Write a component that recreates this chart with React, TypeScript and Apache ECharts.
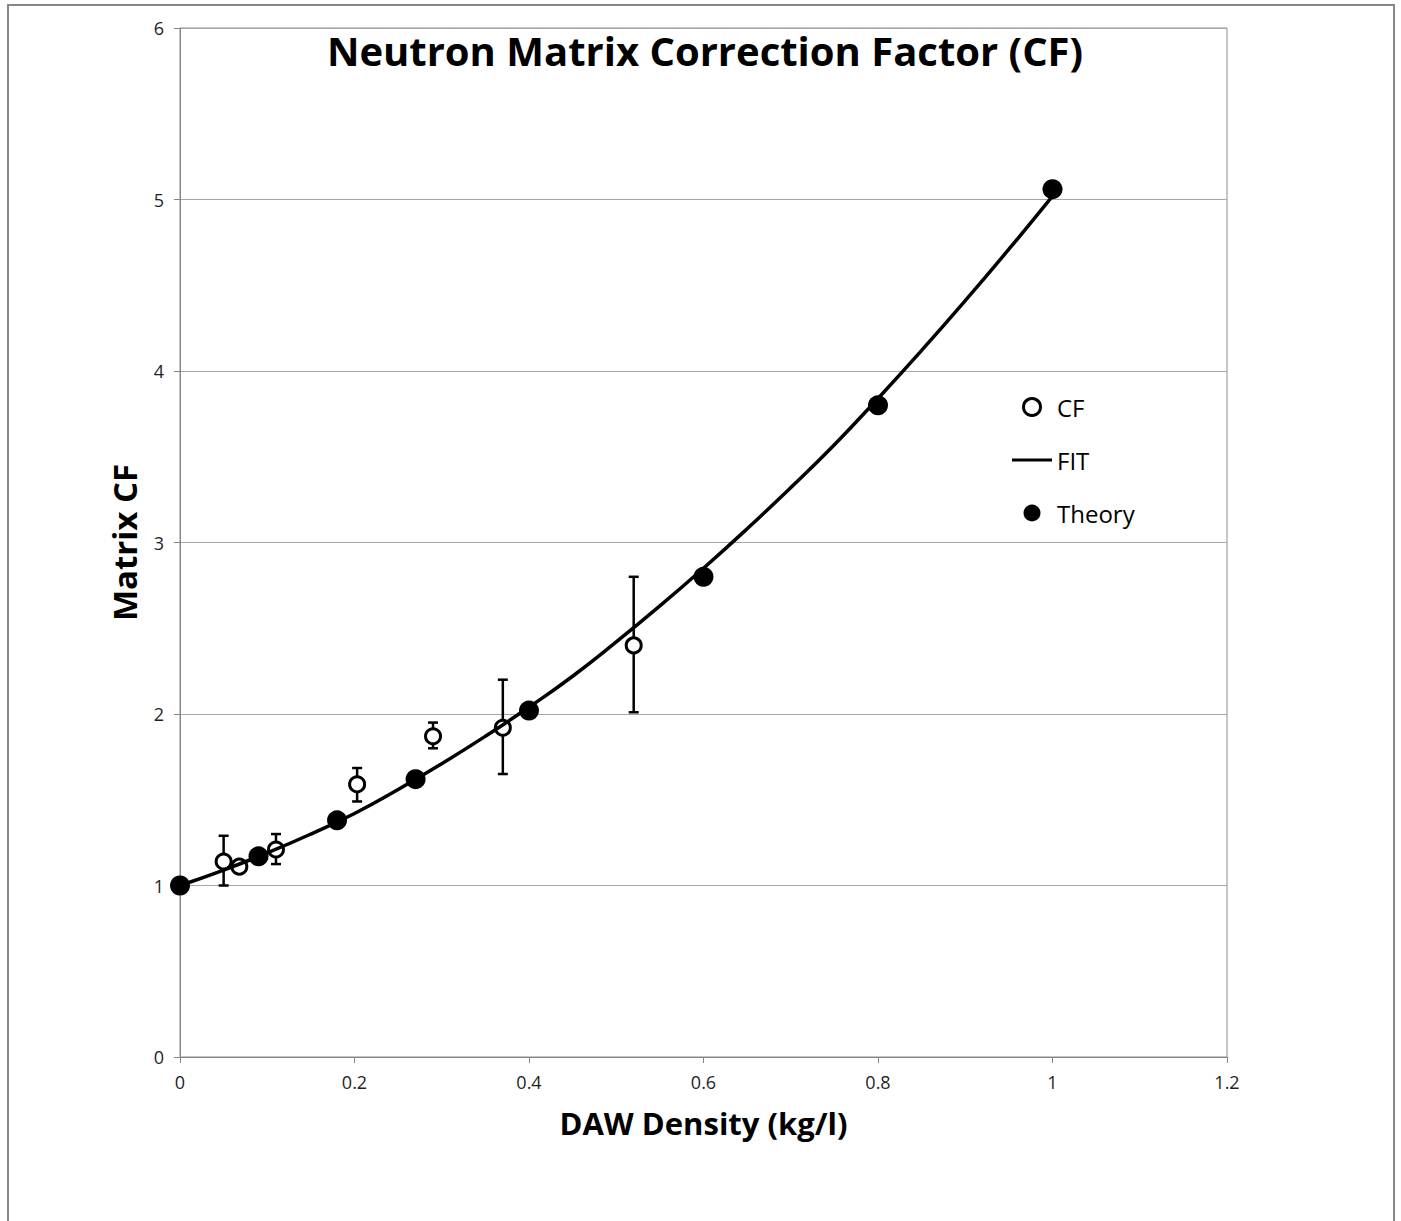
import React, { useEffect, useRef } from "react";
import * as echarts from "echarts";

const TITLE = "Neutron Matrix Correction Factor (CF)";
const X_NAME = "DAW Density (kg/l)";
const Y_NAME = "Matrix CF";

// Measured CF points: density, CF, lower error, upper error
const cfX = [0.05, 0.068, 0.11, 0.203, 0.29, 0.37, 0.52];
const cfY = [1.14, 1.11, 1.21, 1.59, 1.87, 1.92, 2.4];
const cfLow = [1.0, 1.08, 1.125, 1.49, 1.8, 1.65, 2.01];
const cfHigh = [1.29, 1.14, 1.3, 1.685, 1.95, 2.2, 2.8];

// Theory points
const thX = [0, 0.09, 0.18, 0.27, 0.4, 0.6, 0.8, 1.0];
const thY = [1.0, 1.17, 1.38, 1.62, 2.02, 2.8, 3.8, 5.06];

// Fit curve
const fitX = [0, 0.05, 0.1, 0.15, 0.2, 0.25, 0.3, 0.35, 0.4, 0.45, 0.5, 0.55, 0.6, 0.65, 0.7, 0.75, 0.8, 0.85, 0.9, 0.95, 1.0];
const fitY = [1.0, 1.09, 1.19, 1.3, 1.42, 1.56, 1.71, 1.87, 2.04, 2.22, 2.42, 2.63, 2.85, 3.08, 3.32, 3.57, 3.84, 4.12, 4.41, 4.71, 5.02];

const FONT = "'Open Sans', 'Liberation Sans', sans-serif";

export default function App() {
  const ref = useRef<HTMLDivElement>(null);
  useEffect(() => {
    if (!ref.current) return;
    const chart = echarts.init(ref.current, null, { renderer: "svg" });
    const errData = cfX.map((x, i) => [x, cfLow[i], cfHigh[i]]);
    chart.setOption({
      animation: false,
      backgroundColor: "#ffffff",
      textStyle: { fontFamily: FONT },
      title: {
        text: TITLE,
        left: 700,
        top: 25,
        textAlign: "center",
        textStyle: { fontFamily: FONT, fontWeight: "bold", fontSize: 40, color: "#000" },
      },
      graphic: [
        {
          type: "rect",
          shape: { x: 8, y: 5, width: 1386, height: 1260 },
          style: { fill: "none", stroke: "#878787", lineWidth: 2 },
          silent: true,
          z: 0,
        },
      ],
      legend: {
        orient: "vertical",
        left: 1007,
        top: 390,
        itemWidth: 40,
        itemHeight: 17,
        itemGap: 29,
        textStyle: { fontFamily: FONT, fontSize: 24, color: "#000", lineHeight: 24 },
        data: [
          { name: "CF", icon: "circle", itemStyle: { color: "#fff", borderColor: "#000", borderWidth: 3 } },
          { name: "FIT", icon: "path://M0 0H40V3H0Z", itemStyle: { color: "#000", borderWidth: 0 } },
          { name: "Theory", icon: "circle" },
        ],
      },
      grid: {
        left: 180,
        top: 28,
        right: 174,
        bottom: 164,
        show: true,
        borderColor: "#8c8c8c",
        borderWidth: 1,
        backgroundColor: "transparent",
      },
      xAxis: {
        type: "value",
        min: 0,
        max: 1.2,
        interval: 0.2,
        name: X_NAME,
        nameLocation: "middle",
        nameGap: 50,
        nameTextStyle: { fontFamily: FONT, fontWeight: "bold", fontSize: 31, color: "#000" },
        axisLine: { show: true, lineStyle: { color: "#868686", width: 1 } },
        axisTick: { show: true, length: 6, lineStyle: { color: "#868686" } },
        axisLabel: { margin: 16, fontSize: 18, color: "#1f1f1f", fontFamily: FONT },
        splitLine: { show: false },
      },
      yAxis: {
        type: "value",
        min: 0,
        max: 6,
        interval: 1,
        name: Y_NAME,
        nameLocation: "middle",
        nameGap: 39,
        nameTextStyle: { fontFamily: FONT, fontWeight: "bold", fontSize: 33, color: "#000" },
        axisLine: { show: true, lineStyle: { color: "#868686", width: 1 } },
        axisTick: { show: true, length: 6, lineStyle: { color: "#868686" } },
        axisLabel: { margin: 16, fontSize: 18, color: "#1f1f1f", fontFamily: FONT },
        splitLine: { show: true, lineStyle: { color: "#a6a6a6", width: 1 } },
      },
      series: [
        {
          name: "CF errors",
          type: "custom",
          data: errData,
          z: 2,
          silent: true,
          renderItem: (params: any, api: any) => {
            const x = api.value(0);
            const lo = api.coord([x, api.value(1)]);
            const hi = api.coord([x, api.value(2)]);
            const cap = 5;
            const style = { stroke: "#000", lineWidth: 2.5 };
            return {
              type: "group",
              children: [
                { type: "line", shape: { x1: lo[0], y1: lo[1], x2: hi[0], y2: hi[1] }, style },
                { type: "line", shape: { x1: lo[0] - cap, y1: lo[1], x2: lo[0] + cap, y2: lo[1] }, style },
                { type: "line", shape: { x1: hi[0] - cap, y1: hi[1], x2: hi[0] + cap, y2: hi[1] }, style },
              ],
            };
          },
        },
        {
          name: "CF",
          type: "scatter",
          data: cfX.map((x, i) => [x, cfY[i]]),
          symbol: "circle",
          symbolSize: 15,
          z: 3,
          itemStyle: { color: "#fff", borderColor: "#000", borderWidth: 3, opacity: 1 },
        },
        {
          name: "FIT",
          type: "line",
          data: fitX.map((x, i) => [x, fitY[i]]),
          smooth: true,
          symbol: "none",
          showSymbol: false,
          z: 4,
          lineStyle: { color: "#000", width: 3.5 },
          itemStyle: { color: "#000" },
        },
        {
          name: "Theory",
          type: "scatter",
          data: thX.map((x, i) => [x, thY[i]]),
          symbol: "circle",
          symbolSize: 20,
          z: 5,
          itemStyle: { color: "#000", opacity: 1 },
        },
      ],
    });
    return () => chart.dispose();
  }, []);
  return (
    <div
      ref={ref}
      style={{ position: "absolute", left: 0, top: 0, width: 1401, height: 1221 }}
    />
  );
}
